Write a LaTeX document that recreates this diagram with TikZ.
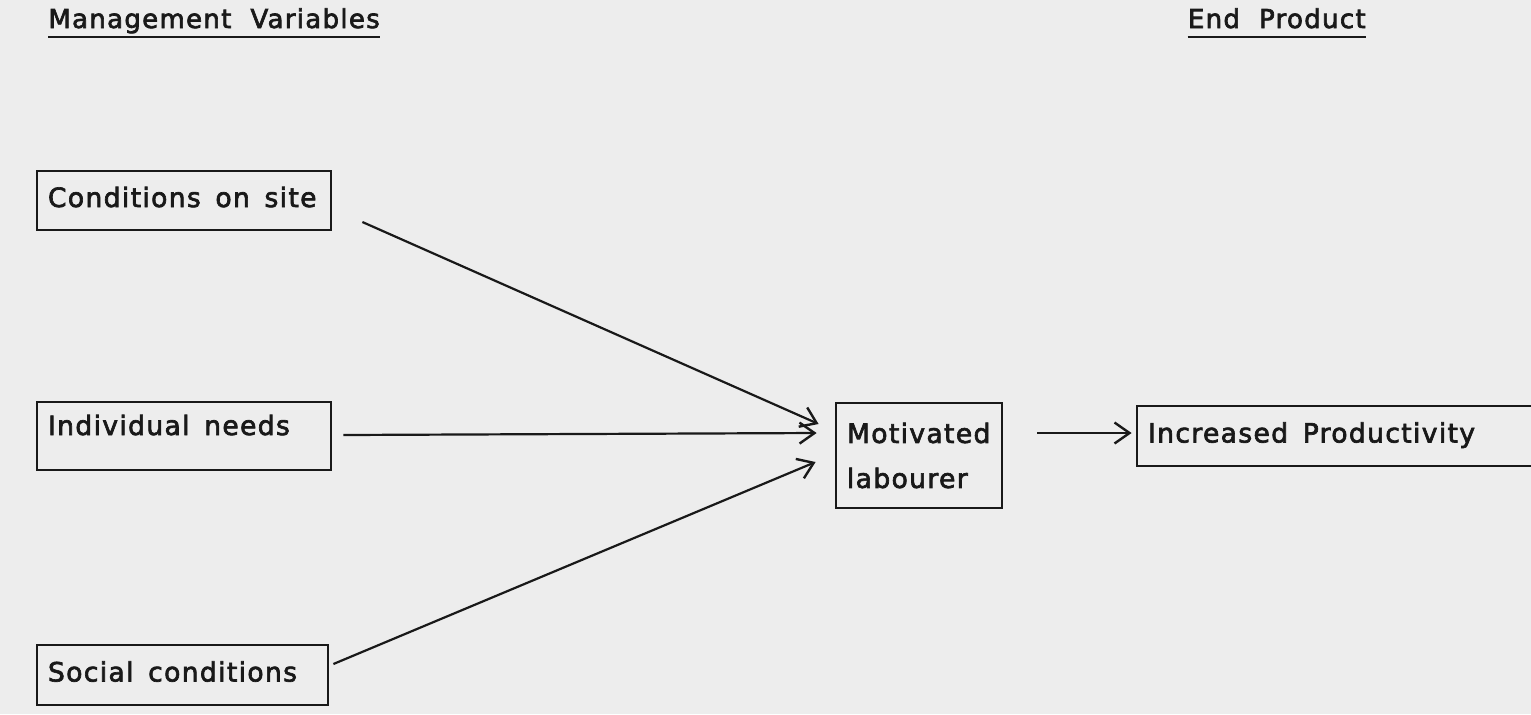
\documentclass[tikz,border=0pt]{standalone}
\usepackage{fontspec}
\newfontfamily\scanfont[LetterSpace=5,WordSpace=2,FakeBold=2.5]{DejaVu Sans}
\usepackage{tikz}
\usetikzlibrary{arrows.meta,calc}
\usepackage{xcolor}
\definecolor{scanbg}{gray}{0.93}
\definecolor{ink}{gray}{0.1}

\tikzset{
  varbox/.style={draw=ink,line width=1.4pt,text=ink,font=\fontsize{13.3pt}{16pt}\scanfont,
    align=left,inner xsep=5.5pt,inner ysep=0pt,text height=9.75pt,text depth=3.25pt,
    execute at begin node={\spaceskip=0.55em\relax}},
  flow/.style={draw=ink,line width=1.1pt,-{Straight Barb[length=7.5pt,width=10.5pt,line width=1.2pt]}},
  heading/.style={text=ink,font=\fontsize{13pt}{15.6pt}\scanfont,inner sep=0pt}
}

\begin{document}
\begin{tikzpicture}[x=0.5pt,y=-0.5pt]
  \useasboundingbox[fill=scanbg] (0,0) rectangle (1531,714);
  \node[heading,anchor=base west] (mvar) at (48,28){Management Variables};
  \node[heading,anchor=base east] (eprod) at (1366,28){End Product};
  \draw[ink,line width=1.4pt] ($(mvar.base west)+(0,9)$) -- ($(mvar.base east)+(0,9)$);
  \draw[ink,line width=1.4pt] ($(eprod.base west)+(0,9)$) -- ($(eprod.base east)+(0,9)$);

  \node[varbox,text width=136pt,minimum height=29.5pt] (site) at (184,200.5){Conditions on site};
  \node[varbox,text width=136pt,minimum height=34pt,text depth=10.75pt] (needs) at (184,436){Individual needs};
  \node[varbox,text width=134.5pt,minimum height=30pt] (social) at (182.5,675){Social conditions};
  \node[varbox,text width=72pt,minimum height=52.5pt,text height=,text depth=,
    font=\fontsize{13.3pt}{22.5pt}\scanfont] (labourer) at (919,455.5){Motivated\\labourer};
  \node[varbox,text width=193pt,minimum height=30pt] (prod) at (1341,436){Increased Productivity};

  \draw[flow] ($(site.east)+(30,21.5)$) -- ($(labourer.west)+(-16,-31.5)$);
  \draw[flow] ($(needs.east)+(11,-1)$) -- ($(labourer.west)+(-18,-22.5)$);
  \draw[flow] ($(social.east)+(4,-11)$) -- ($(labourer.west)+(-19,6.5)$);
  \draw[flow] ($(labourer.east)+(34,-22.5)$) -- ($(prod.west)+(-4,-3)$);
\end{tikzpicture}
\end{document}
